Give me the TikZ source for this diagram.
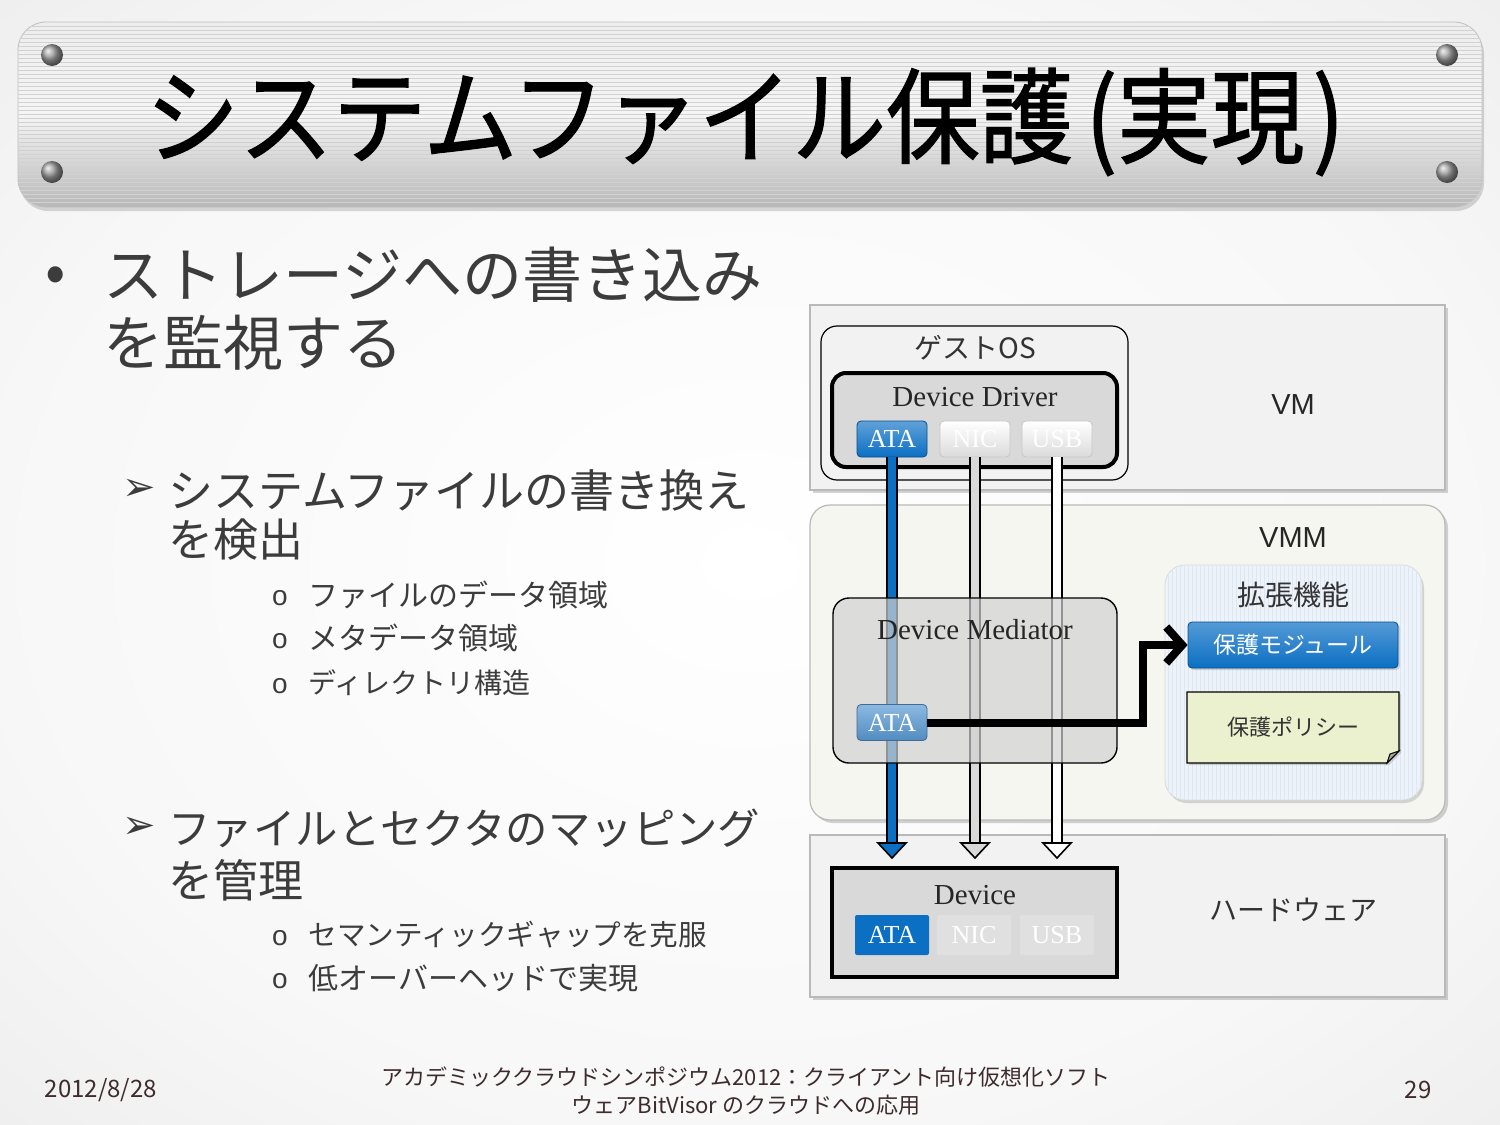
\documentclass[tikz,border=0pt]{standalone}
\usepackage{fontspec}
\setmainfont{Liberation Serif}
\newfontfamily\jp{Noto Sans CJK JP}
\newfontfamily\jpt{Noto Sans CJK JP}[FakeBold=1.2, FakeStretch=0.9]
\newfontfamily\lsans{Liberation Sans}
\newfontfamily\dingfont{DejaVu Sans}
\usetikzlibrary{positioning,calc,shadows,arrows.meta}

\definecolor{ataBlue}{HTML}{0B6FC4}
\definecolor{ataLight}{HTML}{5B9BD5}
\definecolor{boxGray}{HTML}{D9D9D9}
\definecolor{panelGray}{HTML}{F2F2F2}
\definecolor{vmmPanel}{HTML}{F6F6F1}
\definecolor{extBlue}{HTML}{EEF3FA}
\definecolor{extStripe}{HTML}{DCE6F4}
\definecolor{noteGreen}{HTML}{EBF1CF}
\definecolor{bodyText}{HTML}{3C3C3C}
\definecolor{footText}{HTML}{3E2C2C}

\pgfdeclareradialshading{slidebg}{\pgfpoint{0bp}{0bp}}{color(0bp)=(white); color(25bp)=(white!97!black); color(50bp)=(white!89!black); color(72bp)=(white!80!black)}

\tikzset{
  panel/.style={draw=gray!55, fill=panelGray, line width=0.6pt, inner sep=0pt,
    drop shadow={shadow xshift=1.5pt, shadow yshift=-1.5pt, opacity=0.35}},
  btn/.style={minimum width=35pt, minimum height=18pt, inner sep=0pt, rounded corners=2pt,
    text=white, font=\fontsize{13}{15}\selectfont},
  ataBtn/.style={btn, top color=ataBlue!65, bottom color=ataBlue, draw=ataBlue!70!black, line width=0.4pt},
  greyBtn/.style={btn, top color=white, bottom color=gray!28, draw=gray!45, line width=0.4pt},
  devBtn/.style={minimum width=37pt, minimum height=20pt, inner sep=0pt, rounded corners=1pt,
    text=white, font=\fontsize{13}{15}\selectfont},
  serifLabel/.style={font=\fontsize{14.5}{17}\selectfont, text=black!85, inner sep=0pt},
  sansLabel/.style={font=\lsans\fontsize{14.5}{17}\selectfont, text=black!85, inner sep=0pt},
  jpLabel/.style={font=\jp\fontsize{14}{17}\selectfont, text=black!80, inner sep=0pt},
  bodyA/.style={font=\jp\fontsize{30}{36}\selectfont, text=bodyText, anchor=west, inner sep=0pt},
  bodyB/.style={font=\jp\fontsize{22.5}{27}\selectfont, text=bodyText, anchor=west, inner sep=0pt},
  bodyC/.style={font=\jp\fontsize{15}{18}\selectfont, text=bodyText, anchor=west, inner sep=0pt},
  subBullet/.style={font=\dingfont\fontsize{20}{24}\selectfont, text=bodyText, anchor=west, inner sep=0pt},
  foot/.style={font=\jp\fontsize{11}{13}\selectfont, text=footText, inner sep=0pt},
  flow/.style={line width=4pt, -{Straight Barb[length=8pt,width=18pt,line width=4pt]}}
}

\newcommand\pipehead[2]{%
  \filldraw[fill=#2, line width=0.8pt, line join=miter]
    ($(#1)+(-14,-15)$) -- ($(#1)+(14,-15)$) -- (#1) -- cycle;}

\begin{document}
\begin{tikzpicture}[x=0.5pt,y=-0.5pt]
\useasboundingbox (0,0) rectangle (1500,1125);
\shade[shading=slidebg] (0,0) rectangle (1500,1125);

% title banner
\node[draw=gray!50, rounded corners=14pt, minimum width=732pt, minimum height=92.5pt,
  top color=white!93!black, bottom color=white!72!black, middle color=white!96!black,
  drop shadow={shadow xshift=1pt, shadow yshift=-2pt, opacity=0.3}] (banner) at (750,114.5) {};
\begin{scope}
  \clip[rounded corners=14pt] (banner.south west) rectangle (banner.north east);
  \foreach \y in {26,30,...,205}
    \draw[white!82!black, line width=0.5pt] (18,\y) -- (1482,\y);
\end{scope}
\foreach \x/\y in {52/55, 52/172, 1447/55, 1447/172}
  \shade[ball color=gray!75] (\x,\y) circle[radius=5.5pt];
\node[font=\jpt\fontsize{52}{56}\selectfont, inner sep=0pt] (title) at (745,122) {システムファイル保護\hspace{0.12em}(実現\hspace{0.08em})};

% body text
\node[font=\jp\fontsize{30}{34}\selectfont, text=bodyText, inner sep=0pt] (dot1) at (56,280) {•};
\node[bodyA] (t1a) at (103,275) {ストレージへの書き込み};
\node[bodyA] (t1b) at (103,343) {を監視する};
\node[subBullet] (arr1) at (122,490) {➢};
\node[bodyB] (t2a) at (168,490) {システムファイルの書き換え};
\node[bodyB] (t2b) at (168,540) {を検出};
\node[bodyC] (t3a) at (308,595) {ファイルのデータ領域};
\node[bodyC] (t3b) at (308,638) {メタデータ領域};
\node[bodyC, font=\jp\fontsize{14}{17}\selectfont] (t3c) at (308,683) {ディレクトリ構造};
\node[subBullet] (arr2) at (122,828) {➢};
\node[bodyB, font=\jp\fontsize{21.2}{26}\selectfont] (t4a) at (168,828) {ファイルとセクタのマッピング};
\node[bodyB] (t4b) at (168,880) {を管理};
\node[bodyC, font=\jp\fontsize{14.3}{17}\selectfont] (t5a) at (308,935) {セマンティックギャップを克服};
\node[bodyC] (t5b) at (308,978) {低オーバーヘッドで実現};
\foreach \y [count=\i] in {598,641,686,938,981}
  \node[font=\lsans\fontsize{14}{16}\selectfont, text=bodyText, inner sep=0pt] (o\i) at (280,\y) {o};

% layers
\node[panel, minimum width=317.5pt, minimum height=92.5pt] (vm) at (1127.5,397.5) {};
\node[sansLabel] (vmtext) at (1293,405) {VM};
\node[panel, fill=vmmPanel, rounded corners=10pt, minimum width=317.5pt, minimum height=157.5pt] (vmm) at (1127.5,662.5) {};
\node[sansLabel] (vmmtext) at (1293,538) {VMM};
\node[panel, minimum width=317.5pt, minimum height=81pt] (hw) at (1127.5,916) {};
\node[jpLabel] (hwtext) at (1293,910) {ハードウェア};

% guest OS
\node[draw, fill=panelGray, rounded corners=8pt, line width=0.6pt, minimum width=153.5pt, minimum height=77pt] (guest) at (974.5,403) {};
\node[jpLabel] (guesttext) at (975,348) {ゲストOS};
\node[draw, fill=boxGray, rounded corners=7pt, line width=2pt, minimum width=142.5pt, minimum height=47pt] (driver) at (974.5,420) {};
\node[serifLabel] (drivertext) at (975,397) {Device Driver};
\node[ataBtn] (ddata) at (892,439) {ATA};
\node[greyBtn] (ddnic) at (975,439) {NIC};
\node[greyBtn] (ddusb) at (1057,439) {USB};

% device
\node[draw, fill=boxGray, line width=2pt, minimum width=142.5pt, minimum height=54.5pt] (device) at (974.5,922.5) {};
\node[serifLabel] (devicetext) at (975,895) {Device};
\node[devBtn, fill=ataBlue] (devata) at (892,935) {ATA};
\node[devBtn, fill=white!88!black] (devnic) at (974,935) {NIC};
\node[devBtn, fill=white!88!black] (devusb) at (1057,935) {USB};

% extension
\node[draw=gray!30, fill=extBlue, rounded corners=10pt, minimum width=128.5pt, minimum height=117.5pt,
  drop shadow={shadow xshift=1pt, shadow yshift=-1.5pt, opacity=0.3}] (ext) at (1293.5,682.5) {};
\begin{scope}
  \clip[rounded corners=10pt] (ext.south west) rectangle (ext.north east);
  \foreach \x in {1168,1172,...,1420}
    \draw[extStripe, line width=0.5pt] (\x,565) -- (\x,800);
\end{scope}
\node[jpLabel] (exttext) at (1293,595) {拡張機能};
\node[top color=ataBlue!70, bottom color=ataBlue, draw=ataBlue!70!black, rounded corners=2pt, line width=0.4pt,
  minimum width=105pt, minimum height=23pt, text=white, font=\jp\fontsize{11.5}{14}\selectfont,
  drop shadow={shadow xshift=1pt, shadow yshift=-1pt, opacity=0.3}] (module) at (1293,645) {保護モジュール};
\filldraw[fill=noteGreen, line width=0.6pt, drop shadow={shadow xshift=1pt, shadow yshift=-1pt, opacity=0.3}]
  (1187,692) -- (1399,692) -- (1399,751) -- (1387,763) -- (1187,763) -- cycle;
\filldraw[fill=noteGreen!70!black, line width=0.5pt] (1399,751) -- (1390,754) -- (1387,763) -- cycle;
\node[jpLabel, font=\jp\fontsize{11}{13}\selectfont] (policy) at (1293,727.5) {保護ポリシー};

% pipes
\coordinate (tipA) at (892,858);
\coordinate (tipB) at (975,858);
\coordinate (tipC) at (1057,858);
\foreach \src/\tip/\col in {ddata/tipA/ataBlue, ddnic/tipB/boxGray, ddusb/tipC/white} {
  \draw[line width=6pt] (\src.south) -- ($(\tip)+(0,-14)$);
  \draw[line width=4pt, \col] (\src.south) -- ($(\tip)+(0,-14)$);
  \pipehead{\tip}{\col}
}

% mediator
\node[draw, fill=gray!35, fill opacity=0.7, rounded corners=8pt, line width=0.7pt,
  minimum width=142pt, minimum height=82.5pt] (mediator) at (975,680.5) {};
\node[serifLabel] (mediatortext) at (975,630) {Device Mediator};
\node[btn, top color=ataLight!70, bottom color=ataLight!90!black, draw=ataLight!70!black, line width=0.4pt] (medata) at (892,722.5) {ATA};

\coordinate (bend) at (1143,722.5);
\draw[flow] (medata.east) -- (bend) |- (module.west);

% footer
\node[foot, font=\jp\fontsize{12}{14}\selectfont] (date) at (101,1090) {2012/8/28};
\node[foot] (foot1) at (746,1077) {アカデミッククラウドシンポジウム2012：クライアント向け仮想化ソフト};
\node[foot] (foot2) at (746,1105) {ウェアBitVisor のクラウドへの応用};
\node[foot, font=\jp\fontsize{12}{14}\selectfont] (page) at (1418,1090) {29};
\end{tikzpicture}
\end{document}
